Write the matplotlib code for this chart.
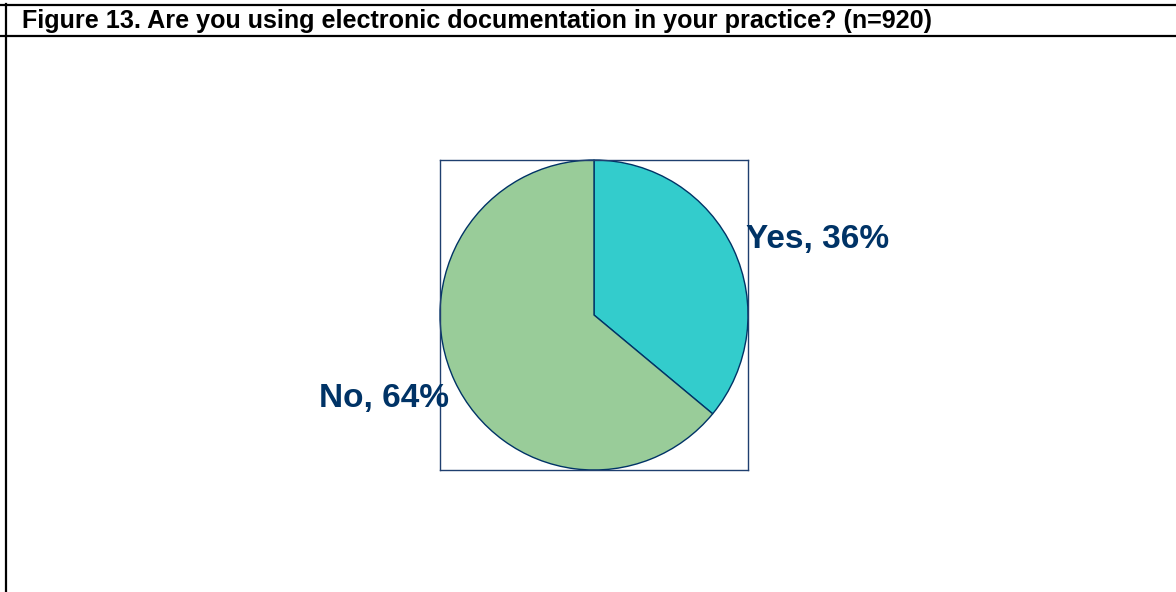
import matplotlib
matplotlib.use("Agg")
import matplotlib.pyplot as plt
from matplotlib.lines import Line2D

# survey answers
labels = ["Yes", "No"]
shares = [36, 64]
colors = ["#33CCCC", "#99CC99"]

title = "Figure 13. Are you using electronic documentation in your practice? (n=920)"
navy = "#003366"

W, H = 1176, 592
fig = plt.figure(figsize=(W / 100, H / 100), dpi=100)
fig.patch.set_facecolor("white")

# frame lines of the table cell
def hline(y, x0=0, x1=W):
    fig.add_artist(Line2D([x0 / W, x1 / W], [1 - y / H, 1 - y / H],
                          color="black", lw=1.6, transform=fig.transFigure))

hline(5)
hline(36)
fig.add_artist(Line2D([6 / W, 6 / W], [0, 1 - 4 / H], color="black", lw=1.6,
                      transform=fig.transFigure))

fig.text(22 / W, 1 - 28 / H, title, fontsize=18.1, fontweight="bold",
         family="Liberation Sans", va="baseline", ha="left")

# pie in its own box
ax = fig.add_axes([440 / W, (H - 470) / H, 308 / W, 310 / H])
ax.pie(shares, colors=colors, startangle=90, counterclock=False,
       wedgeprops=dict(edgecolor=navy, linewidth=1.0))
ax.set_xlim(-1.0, 1.0)
ax.set_ylim(-1.0, 1.0)
ax.set_aspect("auto")
ax.set_frame_on(True)
for sp in ax.spines.values():
    sp.set_visible(True)
    sp.set_color("#1F3F6F")
    sp.set_linewidth(1.0)
ax.set_xticks([])
ax.set_yticks([])

lab_font = dict(fontsize=24, fontweight="bold", color=navy, family="Liberation Sans")
ax.text(0.994, 0.742, f"{labels[0]}, {shares[0]}%", transform=ax.transAxes,
        ha="left", va="center", **lab_font)
ax.text(0.028, 0.232, f"{labels[1]}, {shares[1]}%", transform=ax.transAxes,
        ha="right", va="center", **lab_font)

fig.savefig("out.png", dpi=100)
